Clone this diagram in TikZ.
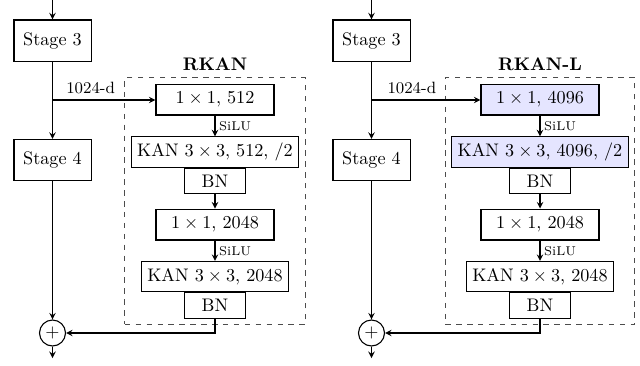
\documentclass[tikz,border=0pt]{standalone}
\usepackage{amsmath,amssymb}
\usepackage{tikz}
\usetikzlibrary{arrows,fit}

\tikzset{
  stagebox/.style={draw,minimum width=42.4pt,minimum height=22.6pt},
  convbox/.style={draw,minimum width=64.9pt,minimum height=17pt},
  kanbox/.style={draw,minimum height=16.5pt},
  bnbox/.style={draw,minimum width=33.5pt,minimum height=14pt},
  sumnode/.style={draw,circle,inner sep=0pt,minimum size=14.3pt},
  blockframe/.style={draw=black!70,dashed,inner sep=3.2pt},
  actlabel/.style={right,font=\scriptsize,inner sep=2pt},
  wide/.style={fill=blue!10}
}

\begin{document}
\begin{tikzpicture}[x=0.55pt,y=-0.55pt,>=stealth,semithick]
  \useasboundingbox (0,0) rectangle (640,366);

  % RKAN
  \coordinate (in-a) at (52.5,0);
  \node[stagebox] (s3-a) at (52.5,40.5) {Stage 3};
  \node[stagebox] (s4-a) at (52.5,160) {Stage 4};
  \coordinate (br-a) at (52.5,100);
  \node[convbox] (c1-a) at (215,99.5) {$1\times 1$, 512};
  \node[kanbox] (k1-a) at (215,152) {KAN $3\times 3$, 512, /2};
  \node[bnbox,anchor=north] (b1-a) at (k1-a.south) {BN};
  \node[convbox] (c2-a) at (215,224.5) {$1\times 1$, 2048};
  \node[kanbox] (k2-a) at (215,276.5) {KAN $3\times 3$, 2048};
  \node[bnbox,anchor=north] (b2-a) at (k2-a.south) {BN};
  \node[sumnode] (sum-a) at (52.5,333) {$+$};
  \coordinate (out-a) at (52.5,358);
  \node[blockframe,fit=(c1-a)(k1-a)(b2-a),
        label={[font=\bfseries]above:RKAN}] (blk-a) {};

  \path[->]
    (in-a) edge (s3-a)
    (s3-a) edge (s4-a)
    (br-a) edge node[above,pos=0.37,font=\small]{1024-d} (br-a -| c1-a.west)
    (c1-a) edge node[actlabel]{SiLU} (k1-a)
    (b1-a) edge (c2-a)
    (c2-a) edge node[actlabel]{SiLU} (k2-a)
    (s4-a) edge (sum-a)
    (sum-a) edge (out-a);
  \draw[->] (b2-a.south) |- (sum-a.east);

  % RKAN-L
  \coordinate (in-b) at (371.5,0);
  \node[stagebox] (s3-b) at (371.5,40.5) {Stage 3};
  \node[stagebox] (s4-b) at (371.5,160) {Stage 4};
  \coordinate (br-b) at (371.5,100);
  \node[convbox,wide] (c1-b) at (540,99.5) {$1\times 1$, 4096};
  \node[kanbox,wide] (k1-b) at (540,152) {KAN $3\times 3$, 4096, /2};
  \node[bnbox,anchor=north] (b1-b) at (k1-b.south) {BN};
  \node[convbox] (c2-b) at (540,224.5) {$1\times 1$, 2048};
  \node[kanbox] (k2-b) at (540,276.5) {KAN $3\times 3$, 2048};
  \node[bnbox,anchor=north] (b2-b) at (k2-b.south) {BN};
  \node[sumnode] (sum-b) at (371.5,333) {$+$};
  \coordinate (out-b) at (371.5,358);
  \node[blockframe,fit=(c1-b)(k1-b)(b2-b),
        label={[font=\bfseries]above:RKAN-L}] (blk-b) {};

  \path[->]
    (in-b) edge (s3-b)
    (s3-b) edge (s4-b)
    (br-b) edge node[above,pos=0.37,font=\small]{1024-d} (br-b -| c1-b.west)
    (c1-b) edge node[actlabel]{SiLU} (k1-b)
    (b1-b) edge (c2-b)
    (c2-b) edge node[actlabel]{SiLU} (k2-b)
    (s4-b) edge (sum-b)
    (sum-b) edge (out-b);
  \draw[->] (b2-b.south) |- (sum-b.east);
\end{tikzpicture}
\end{document}
